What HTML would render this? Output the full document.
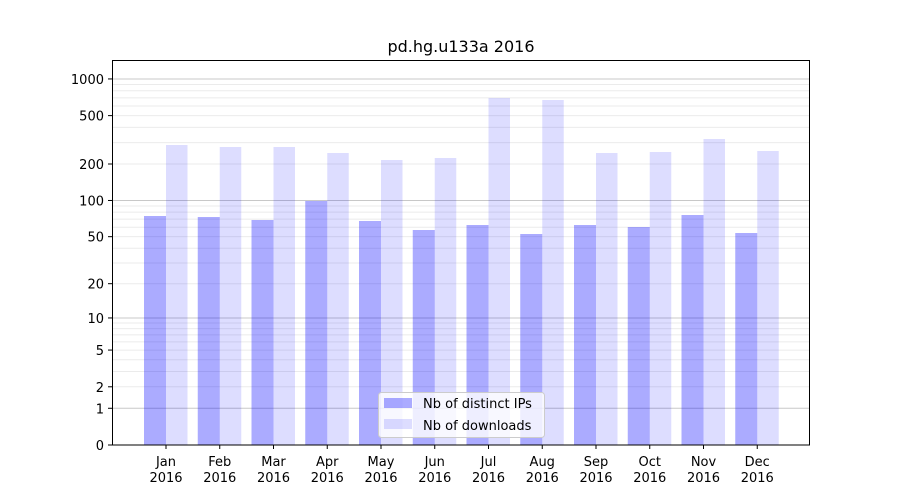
<!DOCTYPE html>
<html><head><meta charset="utf-8"><style>
html,body{margin:0;padding:0;background:#fff;width:900px;height:500px;overflow:hidden}
svg text{font-family:"DejaVu Sans","Liberation Sans",sans-serif;fill:#000}
</style></head><body>
<svg id="s" width="900" height="500" xmlns="http://www.w3.org/2000/svg">
<text x="461" y="52" font-size="16" text-anchor="middle">pd.hg.u133a 2016</text>
<g id="grid"></g>
<g id="bars"></g>
<rect x="112.5" y="60.5" width="697" height="384.5" fill="none" stroke="#000" stroke-width="1"/>
<g id="ticks" font-size="13"></g>
<g>
<rect x="378.5" y="392.5" width="166" height="45" rx="3" fill="#fff" fill-opacity="0.8" stroke="#ccc"/>
<rect x="384" y="398" width="28" height="10" fill="#0000ff" fill-opacity="0.33"/>
<text x="423" y="408" font-size="13">Nb of distinct IPs</text>
<rect x="384" y="419" width="28" height="10" fill="#0000ff" fill-opacity="0.133"/>
<text x="423" y="430" font-size="13">Nb of downloads</text>
</g>
</svg>
<script>
var NS="http://www.w3.org/2000/svg";
function el(p,t,a,txt){var e=document.createElementNS(NS,t);for(var k in a)e.setAttribute(k,a[k]);if(txt!=null)e.textContent=txt;document.getElementById(p).appendChild(e);return e;}
function Y(v){return 445-122*Math.log10(v+1);}
[1,10,100,1000].forEach(function(d){for(var m=2;m<=9;m++){var y=Y(d*m);if(y>60)el("grid","line",{x1:112,x2:810,y1:y,y2:y,stroke:"#ebebeb","stroke-width":1});}
var y=Y(d);el("grid","line",{x1:112,x2:810,y1:y,y2:y,stroke:"#c8c8c8","stroke-width":1});});
var ip=[216,217,220,201,221,230,225,234,225,227,215,233];
var dl=[145,147,147,153,160,158,98,100,153,152,139,151];
var mon=["Jan","Feb","Mar","Apr","May","Jun","Jul","Aug","Sep","Oct","Nov","Dec"];
for(var i=0;i<12;i++){var c=166+i*53.75;
el("bars","rect",{x:c-22,y:ip[i],width:22,height:445-ip[i],fill:"#0000ff","fill-opacity":0.33});
el("bars","rect",{x:c,y:dl[i],width:21.5,height:445-dl[i],fill:"#0000ff","fill-opacity":0.133});
el("ticks","line",{x1:c,x2:c,y1:445,y2:449,stroke:"#000"});
el("ticks","text",{x:c,y:466,"text-anchor":"middle"},mon[i]);
el("ticks","text",{x:c,y:482,"text-anchor":"middle"},"2016");}
[0,1,2,5,10,20,50,100,200,500,1000].forEach(function(v){var y=Y(v);
el("ticks","line",{x1:108,x2:112,y1:y,y2:y,stroke:"#000"});
el("ticks","text",{x:104,y:y+5,"text-anchor":"end"},String(v));});
</script>
</body></html>
